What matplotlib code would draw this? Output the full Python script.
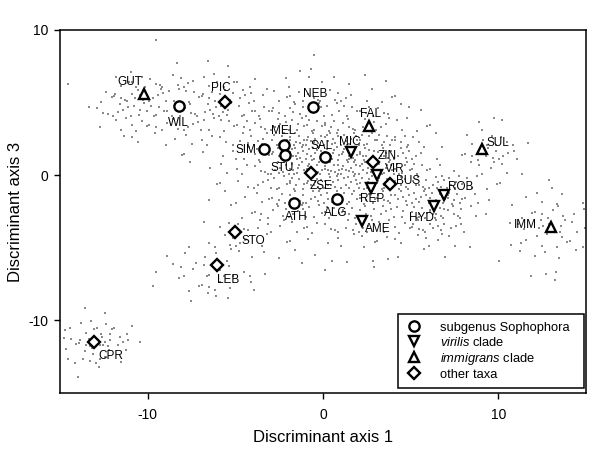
import matplotlib
matplotlib.use("Agg")
import matplotlib.pyplot as plt
from matplotlib.lines import Line2D

plt.rcParams["font.family"] = ["Liberation Sans", "DejaVu Sans"]
plt.rcParams["mathtext.fontset"] = "custom"
plt.rcParams["mathtext.rm"] = "Liberation Sans"
plt.rcParams["mathtext.it"] = "Liberation Sans:italic"
plt.rcParams["axes.unicode_minus"] = False

# ---- taxon centroids (discriminant axes 1 and 3) ----
TAXA = ["GUT", "WIL", "PIC", "NEB", "FAL", "MEL", "STU", "SIM", "SAL", "MIC",
        "ZIN", "VIR", "BUS", "REP", "ZSE", "ATH", "ALG", "AME", "ROB", "HYD",
        "SUL", "IMM", "STO", "LEB", "CPR"]
TAXON_X = [-10.21, -8.21, -5.59, -0.57, 2.62, -2.25, -2.17, -3.36, 0.13, 1.60,
           2.87, 3.06, 3.82, 2.74, -0.70, -1.64, 0.82, 2.21, 6.90, 6.33,
           9.07, 13.00, -5.02, -6.03, -13.06]
TAXON_Y = [5.59, 4.77, 5.04, 4.70, 3.39, 2.08, 1.39, 1.78, 1.23, 1.60,
           0.93, 0.01, -0.61, -0.90, 0.17, -1.89, -1.64, -3.13, -1.36, -2.12,
           1.80, -3.57, -3.89, -6.18, -11.49]
TAXON_GROUP = ["imm", "soph", "other", "soph", "imm", "soph", "soph", "soph", "soph", "vir",
               "other", "vir", "other", "vir", "other", "soph", "soph", "vir", "vir", "vir",
               "imm", "imm", "other", "other", "other"]

GROUPS = ["soph", "vir", "imm", "other"]
GROUP_LABELS = ["subgenus Sophophora", r"$\mathit{virilis}$ clade",
                r"$\mathit{immigrans}$ clade", "other taxa"]

# ---- individual specimens: dots per 1x1 cell ----
# rows go from y=10 down to y=-15, columns from x=-15 to x=15 (hex digits)
GRID_X0, GRID_Y0 = -15, 10
DENSITY = [
    "00000 10000 00000 00000 00000 00000",
    "00000 00000 00001 00000 00000 00000",
    "00001 01011 00011 00000 00000 00000",
    "10034 43343 21112 11110 00000 00000",
    "00356 54455 43344 33221 00000 00000",
    "01356 54556 54455 54432 10000 00000",
    "00134 33444 44566 65543 21012 10000",
    "00012 12233 4579a a9875 21024 31000",
    "00000 01112 358bc cba97 42135 41000",
    "00000 00112 358ab bbaa8 52123 21000",
    "00000 00011 2468a 99aa8 78732 10110",
    "00000 00011 23567 77776 7a831 01221",
    "00000 00001 23455 55545 8a621 12332",
    "00000 00012 33333 44534 66310 12443",
    "00000 00123 32111 22322 23210 12332",
    "00000 01123 21111 11111 11000 11211",
    "00000 12344 21010 10100 00000 01110",
    "00000 11232 11000 00000 00000 00010",
    "00000 00121 00000 00000 00000 00000",
    "01100 00000 00000 00000 00000 00000",
    "24521 00000 00000 00000 00000 00000",
    "46741 00000 00000 00000 00000 00000",
    "24420 00000 00000 00000 00000 00000",
    "01100 00000 00000 00000 00000 00000",
    "00000 00000 00000 00000 00000 00000",
]

# where the dots sit inside a cell (layout only)
CELL_SPOTS = [(0.13, 0.62), (0.71, 0.21), (0.42, 0.88), (0.88, 0.67), (0.29, 0.34),
              (0.57, 0.51), (0.05, 0.09), (0.78, 0.94), (0.50, 0.12), (0.21, 0.79),
              (0.94, 0.39), (0.36, 0.05), (0.65, 0.73), (0.10, 0.45), (0.84, 0.08),
              (0.47, 0.31)]

# label placement in points relative to each centroid
LABEL_OFFSETS = {
    "GUT": (-10, 8.6), "WIL": (-0.7, -12.2), "PIC": (-3, 10), "NEB": (1.4, 9.4),
    "FAL": (1, 8.4), "MEL": (0, 10), "STU": (-2, -9), "SIM": (-13, -0.7),
    "SAL": (-3, 8), "MIC": (-0.7, 7.4), "ZIN": (10, 3.9), "VIR": (12.8, 4.7),
    "BUS": (13, 2.2), "REP": (1, -7.7), "ZSE": (7.6, -9.2), "ATH": (1.3, -10),
    "ALG": (-1.3, -10.3), "AME": (11.7, -6.3), "ROB": (12.2, 6), "HYD": (-9.4, -8.9),
    "SUL": (11.5, 4.7), "IMM": (-18.7, 1.4), "STO": (13, -7), "LEB": (7.5, -11.2),
    "CPR": (12, -10),
}

MARKERS = {"soph": ("o", 7.4), "vir": ("v", 7.8), "imm": ("^", 7.8), "other": ("D", 6.3)}

fig = plt.figure(figsize=(6, 4.51), dpi=100)
ax = fig.add_axes([0.1, 0.1286, 0.8767, 0.8049])

# specimen cloud
xs, ys = [], []
for r, row in enumerate(DENSITY):
    cells = row.replace(" ", "")
    for c, ch in enumerate(cells):
        n = int(ch, 16)
        k0 = (5 * r + 3 * c) % len(CELL_SPOTS)
        for k in range(n):
            ox, oy = CELL_SPOTS[(k0 + k) % len(CELL_SPOTS)]
            xs.append(GRID_X0 + c + ox)
            ys.append(GRID_Y0 - r - 1 + oy)
ax.plot(xs, ys, "s", ms=1.9, mew=0, color="#8a8a8a", zorder=1)

# centroids
for g in GROUPS:
    m, ms = MARKERS[g]
    gx = [x for x, gg in zip(TAXON_X, TAXON_GROUP) if gg == g]
    gy = [y for y, gg in zip(TAXON_Y, TAXON_GROUP) if gg == g]
    ax.plot(gx, gy, m, ms=ms, mew=1.7, mfc="white", mec="black", ls="none", zorder=3)

for name, x, y in zip(TAXA, TAXON_X, TAXON_Y):
    ax.annotate(name, (x, y), xytext=LABEL_OFFSETS[name], textcoords="offset points",
                ha="center", va="center", fontsize=8.5, zorder=4)

ax.set_xlim(-15, 15)
ax.set_ylim(-15, 10)
ax.set_xticks([-10, 0, 10])
ax.set_yticks([-10, 0, 10])
ax.tick_params(direction="out", length=4.3, width=1, labelsize=10)
ax.tick_params(axis="x", pad=6.5)
ax.tick_params(axis="y", pad=4)
for s in ax.spines.values():
    s.set_linewidth(1.1)
ax.set_xlabel("Discriminant axis 1", fontsize=12, labelpad=6)
ax.set_ylabel("Discriminant axis 3", fontsize=12, labelpad=4)

handles = []
for g in GROUPS:
    m, ms = MARKERS[g]
    handles.append(Line2D([], [], marker=m, ms=ms, mew=1.7, mfc="white", mec="black", ls="none"))
leg = ax.legend(handles, GROUP_LABELS, loc="lower left", bbox_to_anchor=(0.643, 0.014, 0.353, 0.2),
                mode="expand", borderaxespad=0, fontsize=9.3, frameon=True, fancybox=False,
                edgecolor="black", framealpha=1, labelspacing=0.16, handletextpad=1.35,
                borderpad=0.55, handlelength=1.3)
leg.get_frame().set_linewidth(1.1)

fig.savefig("out.png", dpi=100)
